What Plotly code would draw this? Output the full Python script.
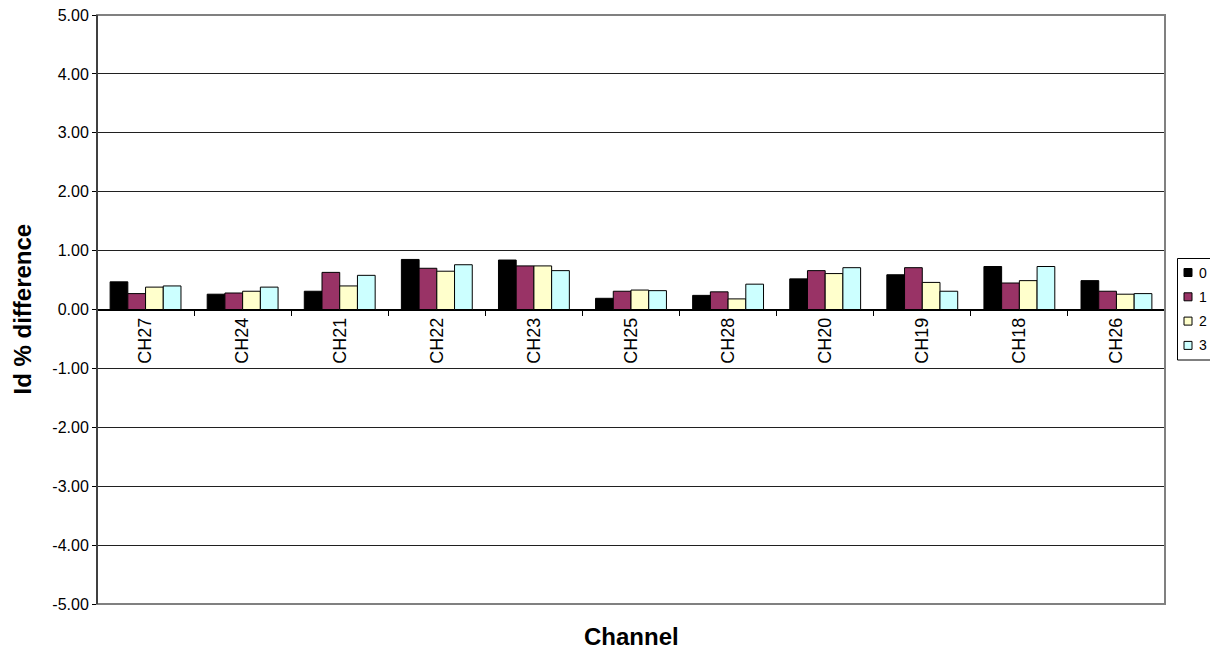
import plotly.graph_objects as go

categories = ["CH27", "CH24", "CH21", "CH22", "CH23", "CH25", "CH28", "CH20", "CH19", "CH18", "CH26"]
series_names = ["0", "1", "2", "3"]
s0 = [0.47, 0.26, 0.31, 0.85, 0.84, 0.19, 0.24, 0.52, 0.59, 0.73, 0.49]
s1 = [0.27, 0.28, 0.63, 0.70, 0.74, 0.31, 0.30, 0.66, 0.71, 0.45, 0.31]
s2 = [0.38, 0.31, 0.40, 0.65, 0.74, 0.33, 0.18, 0.61, 0.46, 0.49, 0.26]
s3 = [0.40, 0.38, 0.58, 0.76, 0.66, 0.32, 0.43, 0.71, 0.31, 0.73, 0.27]
colors = ["#000000", "#993366", "#FFFFCC", "#CCFFFF"]
y_ticks = [-5, -4, -3, -2, -1, 0, 1, 2, 3, 4, 5]
y_ticktext = ["%.2f" % v for v in y_ticks]

FONT = "Liberation Sans, Arial, sans-serif"

# page body has an 8px margin; figure sized to fit in the window
W, H = 1210, 643
OFF = 8
PL, PR, PT, PB = 97, 1165, 15, 604  # plot area in screen pixels


def px(sx):
    return (sx - PL) / (PR - PL)


def py(sy):
    return (PB - sy) / (PB - PT)


fig = go.Figure()
for name, vals, col in zip(series_names, [s0, s1, s2, s3], colors):
    fig.add_trace(go.Bar(x=categories, y=vals, name=name, showlegend=False,
                         marker=dict(color=col, line=dict(color="#000000", width=1))))

fig.update_layout(
    width=W, height=H,
    margin=dict(l=PL - OFF, r=W - (PR - OFF), t=PT - OFF, b=H - (PB - OFF), autoexpand=False),
    paper_bgcolor="white", plot_bgcolor="white",
    font=dict(family=FONT, size=14, color="black"),
    barmode="group", bargap=0.27, bargroupgap=0,
    showlegend=False,
)
fig.update_xaxes(
    anchor="free", position=0.5, automargin=False,
    showline=True, linecolor="black", linewidth=1,
    ticks="outside", tickson="boundaries", ticklen=5, tickcolor="black",
    tickangle=-90, showgrid=False,
    tickfont=dict(family=FONT, size=18),
)
fig.update_yaxes(
    range=[-5, 5], tickvals=y_ticks, ticktext=y_ticktext, automargin=False,
    ticklabeloverflow="allow",
    showline=True, linecolor="black", linewidth=1,
    ticks="outside", ticklen=4, tickcolor="black",
    showgrid=True, gridcolor="#202020", gridwidth=1,
    zeroline=True, zerolinecolor="black", zerolinewidth=1,
    tickfont=dict(family=FONT, size=16),
)
# Gray border at top, right and bottom of plot area
fig.add_shape(type="rect", xref="paper", yref="paper", x0=0, x1=1, y0=0, y1=1,
              line=dict(color="#808080", width=2), layer="above")
fig.add_shape(type="line", xref="paper", yref="paper", x0=0, x1=0, y0=0, y1=1,
              line=dict(color="black", width=1), layer="above")

# Legend (drawn manually to match the compact box)
LB_X0, LB_X1, LB_Y0, LB_Y1 = 1177.5, 1214.5, 258.5, 360.0
fig.add_shape(type="rect", xref="paper", yref="paper",
              x0=px(LB_X0), x1=px(LB_X1), y0=py(LB_Y1), y1=py(LB_Y0),
              line=dict(color="#000000", width=1), fillcolor="white", layer="above")
for i, (name, col) in enumerate(zip(series_names, colors)):
    cy = 272.5 + 24.3 * i
    fig.add_shape(type="rect", xref="paper", yref="paper",
                  x0=px(1184), x1=px(1192), y0=py(cy + 4), y1=py(cy - 4),
                  line=dict(color="#000000", width=1), fillcolor=col, layer="above")
    fig.add_annotation(text=name, xref="paper", yref="paper", x=px(1197), y=py(cy),
                       xanchor="left", yanchor="middle", showarrow=False,
                       font=dict(family=FONT, size=14))

fig.add_annotation(text="<b>Id % difference</b>", xref="paper", yref="paper",
                   x=px(22), y=0.5, xanchor="center", yanchor="middle",
                   textangle=-90, showarrow=False,
                   font=dict(family=FONT, size=24))
fig.add_annotation(text="<b>Channel</b>", xref="paper", yref="paper", x=0.5, y=py(636.5),
                   xanchor="center", yanchor="middle", showarrow=False,
                   font=dict(family=FONT, size=24))

fig.write_html("out.html")
